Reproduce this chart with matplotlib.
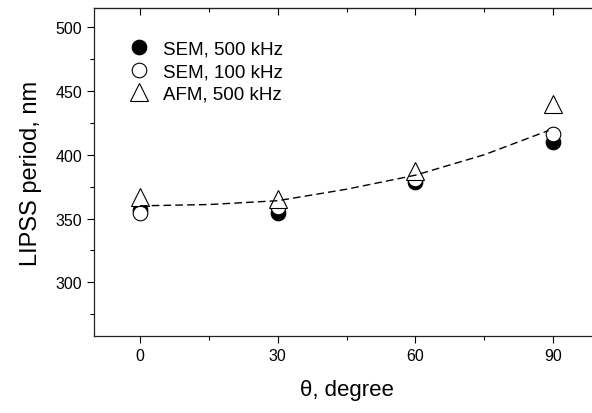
import matplotlib
matplotlib.use("Agg")
import matplotlib.pyplot as plt
from matplotlib.ticker import MultipleLocator

plt.rcParams['font.family'] = ['Liberation Sans', 'DejaVu Sans']

angles = [0, 30, 60, 90]
sem_500 = [357, 354, 379, 410]
sem_100 = [354, 359, 381, 416]
afm_500 = [367, 365, 387, 440]

# dashed guide curve
fit_angles = [0, 15, 30, 45, 60, 75, 89]
fit_period = [360, 361, 364, 373, 384, 400, 419]

fig = plt.figure(figsize=(5.92, 4.14), dpi=100)
ax = fig.add_axes([94/592, 77/414, 505/592, 328/414])

ax.plot(angles, sem_500, 'o', color='black', ms=10.5, mec='black', mew=0.8,
        label='SEM, 500 kHz', zorder=3)
ax.plot(angles, sem_100, 'o', mfc='white', ms=10.5, mec='black', mew=0.8,
        label='SEM, 100 kHz', zorder=4)
ax.plot(angles, afm_500, '^', mfc='white', ms=12.5, mec='black', mew=0.8,
        label='AFM, 500 kHz', zorder=5)
ax.plot(fit_angles, fit_period, color='black', lw=1.0, dashes=(5.5, 3), zorder=6)

ax.set_xlim(-10, 100)
ax.set_ylim(258, 515)
ax.xaxis.set_major_locator(MultipleLocator(30))
ax.xaxis.set_minor_locator(MultipleLocator(15))
ax.set_yticks([300, 350, 400, 450, 500])
ax.yaxis.set_minor_locator(MultipleLocator(25))

ax.tick_params(which='both', direction='out', top=False, right=False,
               labelsize=11.5, width=0.8, color='black')
ax.tick_params(which='major', length=5)
ax.tick_params(which='minor', length=3)
sec = ax.secondary_xaxis('top')
sec.xaxis.set_major_locator(MultipleLocator(30))
sec.xaxis.set_minor_locator(MultipleLocator(15))
sec.tick_params(which='both', direction='in', labeltop=False, width=0.8)
sec.tick_params(which='major', length=5)
sec.tick_params(which='minor', length=3)
sec.set_xticklabels([])

for sp in ax.spines.values():
    sp.set_linewidth(0.9)
    sp.set_color('#222222')
ax.spines['right'].set_visible(False)

ax.set_xlabel('\u03b8, degree', fontsize=16, labelpad=12)
ax.set_ylabel('LIPSS period, nm', fontsize=17, labelpad=10)

ax.legend(loc='upper left', bbox_to_anchor=(0.052, 0.93), frameon=False,
          fontsize=13.5, handletextpad=0.8, labelspacing=0.3, borderpad=0,
          handlelength=1.0)

fig.savefig('out.png', dpi=100)
